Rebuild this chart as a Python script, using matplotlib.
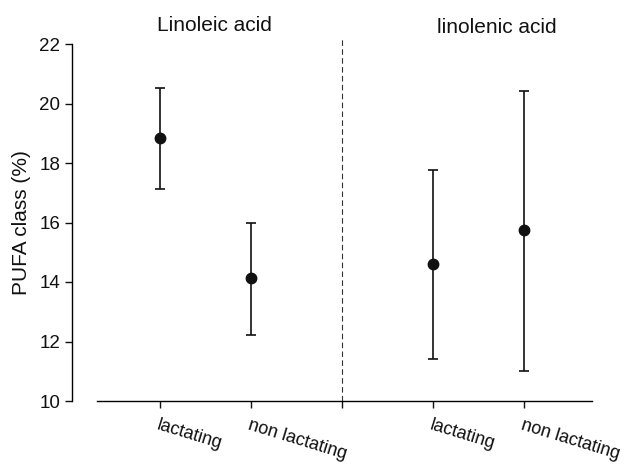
import numpy as np
import matplotlib.pyplot as plt

plt.rcParams['font.family'] = ['Liberation Sans', 'DejaVu Sans']

# data
groups = ['lactating', 'non lactating', '', 'lactating', 'non lactating']
xpos = [1, 2, 4, 5]
means = [18.85, 14.13, 14.62, 15.74]
upper = [20.52, 16.0, 17.75, 20.43]
lower = [17.14, 12.23, 11.42, 11.02]
titles = ['Linoleic acid', 'linolenic acid']

means = np.array(means)
yerr = [means - np.array(lower), np.array(upper) - means]

fig = plt.figure(figsize=(6.29, 4.65), dpi=100)
ax = fig.add_axes([72/629, 1-401/465, 520/629, 357/465])

ax.errorbar(xpos, means, yerr=yerr, fmt='o', color='#111111', ms=7.5,
            ecolor='#111111', elinewidth=1.2, capsize=3.5, capthick=1.2, clip_on=False)

ax.plot([3, 3], [10, 22.25], ls=(0, (5, 3)), color='#333333', lw=0.8, clip_on=False)

ax.set_xlim(0.033, 5.75)
ax.set_ylim(10, 22)
ax.set_yticks(np.arange(10, 23, 2))
ax.set_xticks([1, 2, 3, 4, 5])
ax.set_xticklabels(groups, rotation=-17, ha='left', rotation_mode='anchor')

for s in ['top', 'right']:
    ax.spines[s].set_visible(False)
ax.spines['bottom'].set_bounds(0.31, 5.75)
ax.spines['left'].set_bounds(10, 22)
for s in ['left', 'bottom']:
    ax.spines[s].set_linewidth(1.0)

ax.tick_params(axis='both', direction='out', length=5, width=1.0, labelsize=13.5,
               colors='#111111')
ax.tick_params(axis='x', labelsize=13, pad=6)
ax.set_ylabel('PUFA class (%)', fontsize=15, color='#111111', labelpad=6)

ax.text(1.6, 22.62, titles[0], ha='center', va='center', fontsize=15, color='#111111')
ax.text(4.7, 22.55, titles[1], ha='center', va='center', fontsize=15, color='#111111')

fig.savefig('out.png', dpi=100)
